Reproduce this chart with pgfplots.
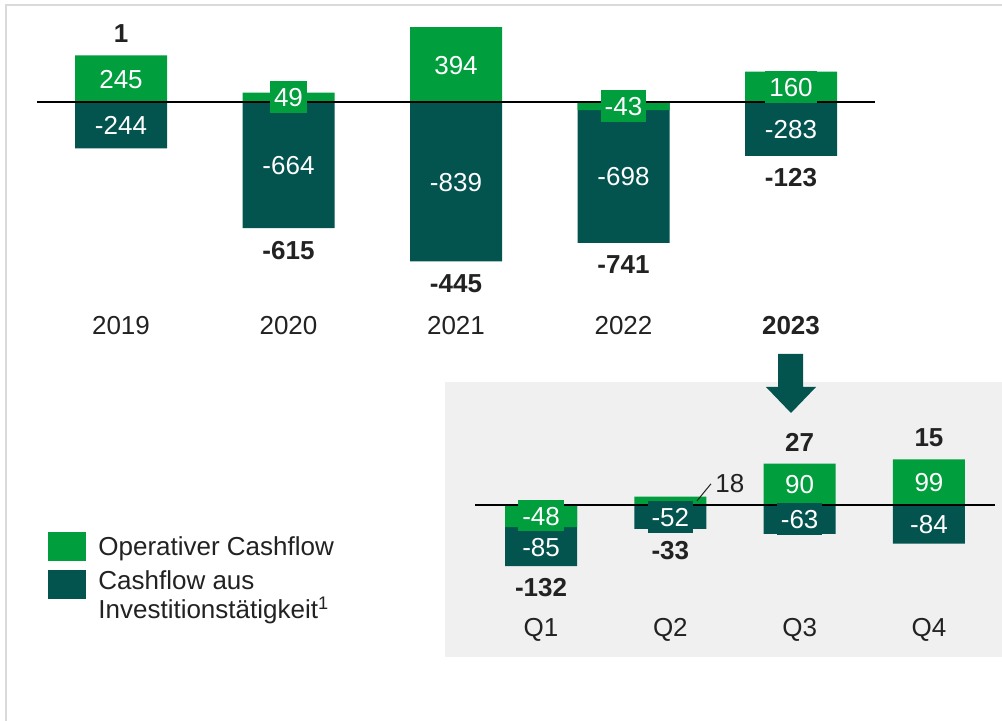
\documentclass[border=0pt]{standalone}
\usepackage{pgfplots}
\pgfplotsset{compat=1.18}
\usepackage{pgfplotstable}
\usepackage{fontspec}
\setmainfont{Liberation Sans}

\definecolor{opgreen}{HTML}{009E3D}
\definecolor{invteal}{HTML}{03534F}
\definecolor{txt}{HTML}{222222}
\definecolor{panel}{HTML}{F0F0F0}
\definecolor{framegray}{HTML}{DADADA}

% Jahre: operativer CF, CF aus Investitionstaetigkeit, Summe
\pgfplotstableread{
x green teal total
0 245 -244 1
1 49 -664 -615
2 394 -839 -445
3 -43 -698 -741
4 160 -283 -123
}\years
% Quartale 2023
\pgfplotstableread{
x green teal total
0 -48 -85 -132
1 18 -52 -33
2 90 -63 27
3 99 -84 15
}\quarters

\pgfplotsset{
  cfbase/.style={
    scale only axis, clip=false, anchor=north west,
    axis line style={draw=none}, tick style={draw=none},
    ytick=\empty, xtick=data,
    xticklabel style={anchor=center, font=\fontsize{13}{15}\selectfont, text=txt},
  },
  seg/.style={ybar, bar shift=0pt, draw=none, fill=#1},
  vlab/.style={draw=none, mark=none, point meta=explicit symbolic,
    nodes near coords={\pgfplotspointmeta},
    nodes near coords style={anchor=center, fill=#1, text=white,
      inner xsep=2pt, inner ysep=3.25pt, text height=9.5pt, text depth=0pt,
      font=\fontsize{13}{15}\selectfont}},
  tlab/.style={draw=none, mark=none, point meta=explicit symbolic,
    nodes near coords={\pgfplotspointmeta},
    nodes near coords style={anchor=center, text=txt,
      font=\fontsize{13}{15}\selectfont\bfseries}},
}

\begin{document}
\begin{tikzpicture}
\useasboundingbox (0,0) rectangle (501pt,-360.5pt);
\fill[white] (0,0) rectangle (501pt,-360.5pt);
% Rahmen und grauer Bereich
\draw[framegray, line width=1.2pt] (3pt,-360.5pt) -- (3pt,-2.5pt) -- (501pt,-2.5pt);
\fill[panel] (222.5pt,-191pt) rectangle (501pt,-328.5pt);
% Pfeil 2023 -> Quartale
\fill[invteal] (389pt,-177pt) -- (401.5pt,-177pt) -- (401.5pt,-193.5pt) -- (408pt,-193.5pt)
  -- (395.5pt,-206.5pt) -- (383pt,-193.5pt) -- (389pt,-193.5pt) -- cycle;

% Jahre
\begin{axis}[cfbase, at={(18.625pt,-8.25pt)}, width=418.75pt, height=147.25pt,
  xmin=-0.5, xmax=4.5, ymin=-1100, ymax=450,
  xticklabels={2019,2020,2021,2022,\textbf{2023}},
  xticklabel style={yshift=-7.5pt}]
\addplot[seg=invteal, bar width=46pt] table[x=x, y expr={min(\thisrow{green},0)+\thisrow{teal}}] {\years};
\addplot[seg=opgreen, bar width=46pt] table[x=x, y=green] {\years};
\addplot[black, line width=1pt, mark=none] coordinates {(-0.5,0) (4.5,0)};
\addplot[vlab=opgreen] table[x=x, y expr={\thisrow{green}/2}, meta=green] {\years};
\addplot[vlab=invteal] table[x=x, y expr={min(\thisrow{green},0)+\thisrow{teal}/2}, meta=teal] {\years};
\addplot[tlab] table[x=x, y expr={\thisrow{total}>0 ? max(\thisrow{green},0)+116 : min(\thisrow{green},0)+\thisrow{teal}-116}, meta=total] {\years};
\end{axis}

% Quartale
\begin{axis}[cfbase, at={(237.55pt,-206.5pt)}, width=259.9pt, height=101.2pt,
  xmin=-0.51, xmax=3.51, ymin=-240, ymax=200,
  xticklabels={Q1,Q2,Q3,Q4},
  xticklabel style={yshift=-7.3pt}]
\addplot[seg=invteal, bar width=36pt] table[x=x, y expr={min(\thisrow{green},0)+\thisrow{teal}}] {\quarters};
\addplot[seg=opgreen, bar width=36pt] table[x=x, y=green] {\quarters};
\addplot[black, line width=1pt, mark=none] coordinates {(-0.51,0) (3.51,0)};
\addplot[vlab=opgreen, skip coords between index={1}{2}] table[x=x, y expr={\thisrow{green}/2}, meta=green] {\quarters};
\addplot[vlab=invteal] table[x=x, y expr={min(\thisrow{green},0)+\thisrow{teal}/2}, meta=teal] {\quarters};
\addplot[tlab] table[x=x, y expr={\thisrow{total}>0 ? max(\thisrow{green},0)+47 : min(\thisrow{green},0)+\thisrow{teal}-47}, meta=total] {\quarters};
\draw[txt, line width=0.5pt] (axis cs:1.206,9) -- (axis cs:1.314,46);
\node[anchor=west, inner sep=0pt, text=txt, font=\fontsize{13}{15}\selectfont] at (axis cs:1.345,47) {18};
\end{axis}

% Legende
\fill[opgreen] (24pt,-266pt) rectangle (43pt,-280.5pt);
\fill[invteal] (24pt,-285pt) rectangle (43pt,-299.5pt);
\begin{scope}[every node/.style={anchor=base west, inner sep=0pt, text=txt, font=\fontsize{13}{15}\selectfont}]
\node at (49pt,-278pt) {Operativer Cashflow};
\node at (49pt,-294.5pt) {Cashflow aus};
\node at (49pt,-309pt) {Investitionstätigkeit\textsuperscript{1}};
\end{scope}
\end{tikzpicture}
\end{document}
